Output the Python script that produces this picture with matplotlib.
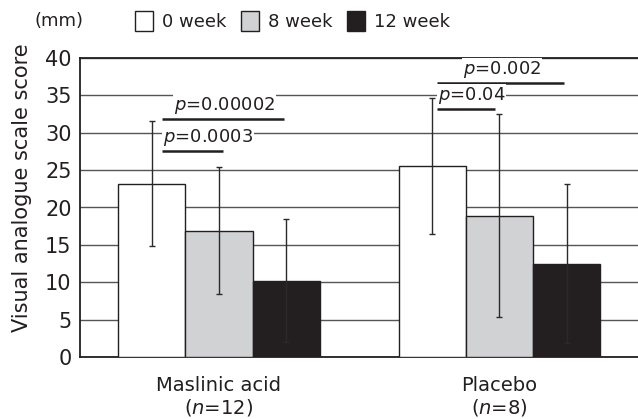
import matplotlib
matplotlib.use("Agg")
import matplotlib.pyplot as plt
from matplotlib.patches import Patch
import numpy as np

plt.rcParams['font.family'] = ['DejaVu Sans']
plt.rcParams['mathtext.fontset'] = 'dejavusans'

groups = ["Maslinic acid\n($\\mathit{n}$=12)", "Placebo\n($\\mathit{n}$=8)"]
series = ["0 week", "8 week", "12 week"]
means = {
    "0 week": [23.2, 25.6],
    "8 week": [16.9, 18.9],
    "12 week": [10.2, 12.5],
}
sds = {
    "0 week": [8.4, 9.1],
    "8 week": [8.5, 13.6],
    "12 week": [8.2, 10.6],
}
colors = {"0 week": "#ffffff", "8 week": "#d1d2d4", "12 week": "#231f20"}
yticks = [0, 5, 10, 15, 20, 25, 30, 35, 40]
# significance annotations: (group, x0 offset, x1 offset, y, label, text anchor)
pvals = [
    (0, -0.203, 0.014, 27.6, "0.0003", "left"),
    (0, -0.203, 0.232, 31.9, "0.00002", "center"),
    (1, -0.223, -0.016, 33.2, "0.04", "left"),
    (1, -0.223, 0.23, 36.7, "0.002", "center"),
]

W, H = 638, 419
fig = plt.figure(figsize=(W / 100, H / 100), dpi=100)
ax = fig.add_axes([80 / W, (H - 357) / H, 1 - 80 / W, (357 - 58) / H])

x = np.arange(len(groups))
bw = 0.24
for i, s in enumerate(series):
    xs = x + (i - 1) * bw
    ax.bar(xs, means[s], width=bw, color=colors[s], edgecolor="#231f20",
           linewidth=1.0, zorder=3)
    ax.errorbar(xs, means[s], yerr=sds[s], fmt="none", ecolor="#2a2a2a",
                elinewidth=1.0, capsize=2.5, capthick=1.0, zorder=4)

ax.set_ylim(0, 40)
ax.set_xlim(-0.4955, 1.4938)
ax.set_yticks(yticks)
ax.set_yticklabels([str(v) for v in yticks])
ax.yaxis.grid(True, color="#555555", linewidth=1.0, zorder=0)
ax.set_axisbelow(True)
ax.tick_params(axis="y", length=0, labelsize=15, pad=6, colors="#231f20")
ax.tick_params(axis="x", length=0, labelsize=14, pad=14, colors="#231f20")
ax.set_xticks(x)
ax.set_xticklabels(groups, linespacing=1.12)
ax.spines["right"].set_visible(False)
for sp in ["left", "bottom", "top"]:
    ax.spines[sp].set_color("#231f20")
    ax.spines[sp].set_linewidth(1.3)
ax.set_ylabel("Visual analogue scale score", fontsize=15, color="#231f20")
ax.yaxis.set_label_coords(-0.0865, 0.565)

for g, a, b, yv, lab, anchor in pvals:
    ax.plot([g + a, g + b], [yv, yv], color="#231f20", linewidth=1.8, zorder=5,
            solid_capstyle="butt")
    tx = g + a + 0.003 if anchor == "left" else g + (a + b) / 2 + 0.005
    ax.text(tx, yv + 0.35, "$\\mathit{p}$=" + lab, ha=anchor,
            va="bottom", fontsize=13, color="#231f20", zorder=6,
            bbox=dict(facecolor="white", edgecolor="none", pad=0.5))

fig.text(35 / W, 1 - 21 / H, "(mm)", fontsize=13, va="center", ha="left", color="#231f20")
handles = [Patch(facecolor=colors[s], edgecolor="#231f20", linewidth=1.0) for s in series]
leg = fig.legend(handles, series, loc="center left", bbox_to_anchor=(135 / W, 1 - 21 / H),
                 ncol=3, frameon=False, fontsize=13, handlelength=1.0, handleheight=1.3,
                 handletextpad=0.5, columnspacing=0.8, borderaxespad=0, borderpad=0)
for t in leg.get_texts():
    t.set_color("#231f20")

fig.savefig("out.png", dpi=100)
